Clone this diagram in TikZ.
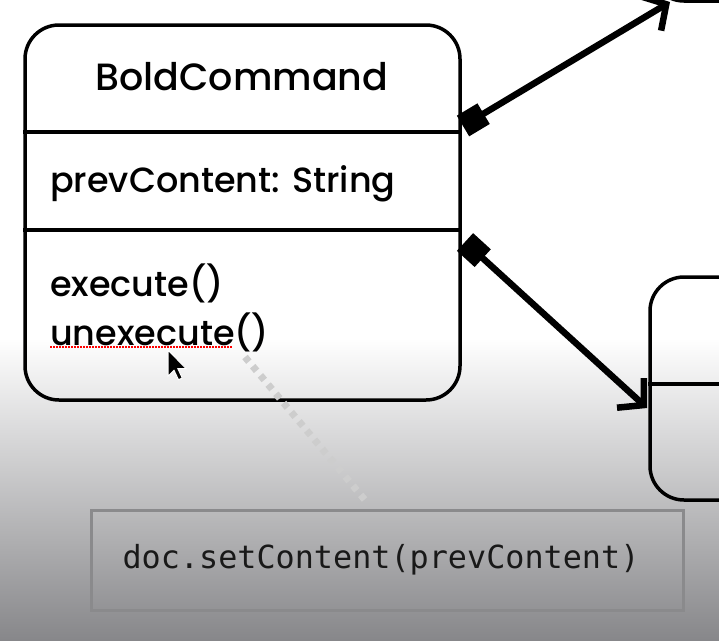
\documentclass[tikz,border=0pt]{standalone}
\usepackage{fontspec}
\setmainfont{Poppins Medium}
\newfontfamily\codefont{DejaVu Sans Mono}
\usetikzlibrary{arrows.meta,calc}
\definecolor{notegray}{RGB}{138,138,140}
\definecolor{dotgray}{RGB}{205,205,205}
\definecolor{shadegray}{RGB}{135,135,138}
\definecolor{codeink}{RGB}{25,25,25}
\tikzset{
	classbox/.style={draw,line width=3.5pt,rounded corners=34pt,inner sep=0pt},
	membertext/.style={anchor=west,inner sep=0pt,font=\fontsize{35}{40}\selectfont},
	assoc/.style={line width=6.5pt,{Square[length=24pt,width=24pt]}-{Straight Barb[length=18pt,width=40pt]}},
	notebox/.style={draw=notegray,line width=3pt,inner sep=0pt,minimum width=592pt,minimum height=100pt},
	notetext/.style={inner sep=0pt,font=\codefont\fontsize{31.8}{36}\selectfont,text=codeink},
	noteline/.style={dotgray,line width=7pt,dash pattern=on 6pt off 6pt}
}
\begin{document}
\begin{tikzpicture}[x=1pt,y=-1pt]
\useasboundingbox (0,0) rectangle (719,640);
\clip (0,0) rectangle (719,640);
\fill [white] (0,0) rectangle (719,640);
\shade [top color=white,bottom color=shadegray] (0,338) rectangle (719,640);

\node [classbox,minimum width=435pt,minimum height=375pt] (boldcmd) at (242.5,212.5) {};
\draw [line width=3.5pt] (boldcmd.west |- 0,132) -- (boldcmd.east |- 0,132);
\draw [line width=3.5pt] (boldcmd.west |- 0,230) -- (boldcmd.east |- 0,230);
\node [inner sep=0pt,font=\fontsize{38}{44}\selectfont] (title) at (242,77) {BoldCommand};
\node [membertext] (field) at (50,184) {prevContent: String};
\node [membertext] (exec) at (50,283) {execute()};
\node [membertext] (unexec) at (50,332) {unexecute()};
\draw [red,line width=1.5pt,dash pattern=on 1.5pt off 1.5pt] (50,347) -- (233,347);

\node [classbox,minimum width=300pt,minimum height=100pt] (docbox) at (800,-49) {};
\node [classbox,minimum width=300pt,minimum height=223pt] (undobox) at (800,388.5) {};
\draw [line width=3.5pt] (undobox.west |- 0,384) -- (undobox.east |- 0,384);

\coordinate (upstart) at (463,126);
\coordinate (upend) at (670,2);
\coordinate (downstart) at (465,242);
\coordinate (downend) at (647,408);
\draw [assoc] (upstart) -- (upend);
\draw [assoc] (downstart) -- (downend);

\node [notebox] (note) at (387,560) {};
\node [notetext] (notecode) at (381,560) {doc.setContent(prevContent)};
\coordinate (noteend) at (365,500);
\coordinate (notestart) at (245,357);
\draw [noteline] (notestart) -- (noteend);

\fill [black,draw=white,line width=1pt,shift={(168,350)},scale=1.1] (0,0) -- (0,24) -- (5.5,18.5) -- (9.5,27) -- (13,25.5) -- (9,17) -- (16.5,17) -- cycle;
\end{tikzpicture}
\end{document}
